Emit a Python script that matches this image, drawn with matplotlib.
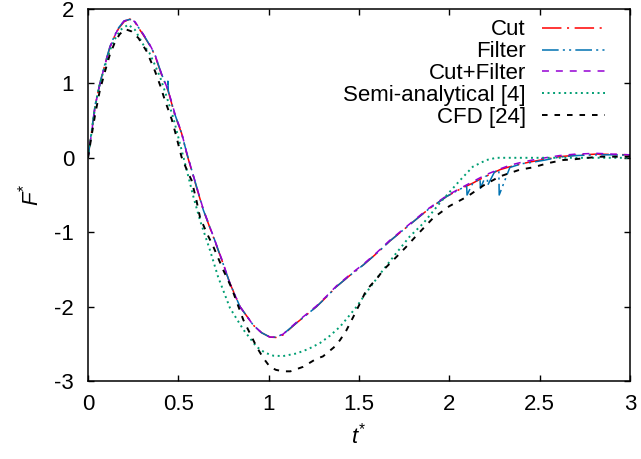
import numpy as np
import matplotlib
matplotlib.use('Agg')
import matplotlib.pyplot as plt

# numerical results (Cut / Filter / Cut+Filter)
t_cut = [0, 0.02, 0.04, 0.066, 0.09, 0.122, 0.15, 0.17, 0.2, 0.232, 0.26, 0.306, 0.34,
         0.37, 0.408, 0.445, 0.48, 0.518, 0.546, 0.6, 0.638, 0.693, 0.74, 0.786, 0.841,
         0.915, 0.96, 1.007, 1.04, 1.08, 1.154, 1.21, 1.265, 1.32, 1.376, 1.45, 1.524,
         1.6, 1.67, 1.74, 1.8, 1.88, 1.985, 2.06, 2.13, 2.2, 2.28, 2.335, 2.4, 2.46,
         2.53, 2.61, 2.7, 2.815, 2.9, 3.0]
F_cut = [0, 0.35, 0.71, 1.0, 1.22, 1.49, 1.65, 1.74, 1.83, 1.865, 1.82, 1.65, 1.52,
         1.38, 1.11, 0.89, 0.58, 0.33, 0.06, -0.39, -0.7, -1.06, -1.37, -1.69, -2.0,
         -2.25, -2.35, -2.41, -2.415, -2.38, -2.22, -2.11, -2.0, -1.87, -1.73, -1.58, -1.44,
         -1.28, -1.12, -0.98, -0.86, -0.7, -0.52, -0.42, -0.34, -0.25, -0.16, -0.12, -0.08, -0.05,
         -0.02, 0.015, 0.035, 0.05, 0.045, 0.04]

t_filter = [0, 0.02, 0.04, 0.066, 0.09, 0.122, 0.15, 0.17, 0.2, 0.232, 0.26, 0.306, 0.34,
            0.37, 0.408, 0.44, 0.442, 0.445, 0.48, 0.518, 0.546, 0.6, 0.638,
            0.693, 0.74, 0.786, 0.841, 0.915, 0.96, 1.007, 1.04, 1.08, 1.154, 1.21, 1.265,
            1.32, 1.376, 1.45, 1.524, 1.6, 1.67, 1.74, 1.8, 1.88, 1.985, 2.06, 2.096, 2.098,
            2.13, 2.17, 2.172, 2.2, 2.21, 2.212, 2.25, 2.274, 2.276, 2.335, 2.4, 2.46,
            2.53, 2.61, 2.7, 2.815, 2.9, 3.0]
F_filter = [0, 0.36, 0.72, 1.0, 1.23, 1.5, 1.66, 1.75, 1.84, 1.86, 1.82, 1.66, 1.52,
            1.39, 1.12, 0.93, 1.03, 0.89, 0.59, 0.33, 0.07, -0.38, -0.7,
            -1.05, -1.37, -1.69, -2.0, -2.25, -2.35, -2.41, -2.41, -2.37, -2.22, -2.11, -2.0,
            -1.87, -1.73, -1.58, -1.44, -1.28, -1.12, -0.98, -0.86, -0.7, -0.52, -0.42, -0.38, -0.5,
            -0.34, -0.28, -0.41, -0.25, -0.24, -0.37, -0.19, -0.16, -0.5, -0.13, -0.08, -0.06,
            -0.03, 0.01, 0.03, 0.04, 0.04, 0.035]

t_both = [0, 0.02, 0.04, 0.066, 0.09, 0.122, 0.15, 0.17, 0.2, 0.232, 0.26, 0.306, 0.34,
          0.37, 0.408, 0.445, 0.48, 0.518, 0.546, 0.6, 0.638, 0.693, 0.74, 0.786, 0.841,
          0.915, 0.96, 1.007, 1.04, 1.08, 1.154, 1.21, 1.265, 1.32, 1.376, 1.45, 1.524,
          1.6, 1.67, 1.74, 1.8, 1.88, 1.985, 2.06, 2.13, 2.2, 2.28, 2.335, 2.4, 2.46,
          2.53, 2.61, 2.7, 2.815, 2.9, 3.0]
F_both = [0, 0.34, 0.7, 0.99, 1.22, 1.49, 1.65, 1.75, 1.84, 1.86, 1.83, 1.66, 1.53,
          1.39, 1.12, 0.9, 0.6, 0.34, 0.07, -0.38, -0.69, -1.05, -1.36, -1.69, -2.0,
          -2.25, -2.35, -2.41, -2.41, -2.37, -2.21, -2.1, -1.99, -1.86, -1.72, -1.57, -1.43,
          -1.27, -1.11, -0.97, -0.85, -0.69, -0.51, -0.41, -0.32, -0.23, -0.15, -0.1, -0.06, -0.03,
          0.0, 0.03, 0.05, 0.06, 0.05, 0.04]

# semi-analytical solution [4]
t_semi = [0, 0.02, 0.04, 0.066, 0.09, 0.122, 0.15, 0.18, 0.223, 0.26, 0.306, 0.34, 0.37,
          0.4, 0.426, 0.472, 0.509, 0.546, 0.583, 0.62, 0.675, 0.72, 0.786, 0.86, 0.933,
          0.98, 1.026, 1.08, 1.154, 1.22, 1.284, 1.34, 1.395, 1.45, 1.487, 1.55, 1.62,
          1.7, 1.78, 1.856, 1.95, 2.06, 2.13, 2.205, 2.26, 2.4, 2.6, 2.8, 3.0]
F_semi = [0, 0.35, 0.7, 1.0, 1.2, 1.45, 1.6, 1.72, 1.79, 1.72, 1.52, 1.41, 1.25,
          1.08, 0.89, 0.54, 0.19, -0.16, -0.52, -0.84, -1.24, -1.6, -2.02, -2.31, -2.54,
          -2.62, -2.66, -2.665, -2.63, -2.57, -2.49, -2.39, -2.27, -2.11, -2.0, -1.78, -1.55,
          -1.3, -1.06, -0.88, -0.6, -0.3, -0.12, -0.03, 0.0, 0.0, 0.0, 0.0, 0.0]

# CFD [24]
t_cfd = [0, 0.02, 0.039, 0.065, 0.094, 0.12, 0.15, 0.175, 0.205, 0.24, 0.279, 0.325,
         0.37, 0.4, 0.426, 0.463, 0.481, 0.518, 0.555, 0.573, 0.6, 0.62, 0.657, 0.693,
         0.749, 0.795, 0.86, 0.933, 0.97, 1.007, 1.04, 1.08, 1.12, 1.19, 1.265, 1.3,
         1.36, 1.395, 1.43, 1.468, 1.515, 1.54, 1.6, 1.634, 1.708, 1.76, 1.82, 1.91,
         2.0, 2.1, 2.19, 2.28, 2.39, 2.46, 2.55, 2.63, 2.69, 2.83, 2.91, 3.0]
F_cfd = [0, 0.3, 0.575, 0.9, 1.16, 1.38, 1.56, 1.66, 1.73, 1.7, 1.61, 1.43,
         1.17, 0.97, 0.77, 0.52, 0.36, 0.01, -0.21, -0.3, -0.57, -0.8, -1.01, -1.19,
         -1.51, -1.75, -2.18, -2.54, -2.69, -2.81, -2.85, -2.87, -2.87, -2.81, -2.7, -2.67,
         -2.55, -2.45, -2.32, -2.14, -1.91, -1.78, -1.62, -1.51, -1.33, -1.2, -1.04, -0.81,
         -0.65, -0.52, -0.37, -0.25, -0.16, -0.13, -0.07, -0.03, -0.02, 0.015, 0.015, 0.015]

x_ticks = [0, 0.5, 1, 1.5, 2, 2.5, 3]
x_ticklabels = ['0', '0.5', '1', '1.5', '2', '2.5', '3']
y_ticks = [-3, -2, -1, 0, 1, 2]
y_ticklabels = ['-3', '-2', '-1', '0', '1', '2']


def main():
    plt.rcParams['font.family'] = ['Liberation Sans', 'DejaVu Sans']
    plt.rcParams['mathtext.fontset'] = 'custom'
    plt.rcParams['mathtext.rm'] = 'Liberation Sans'
    plt.rcParams['mathtext.it'] = 'Liberation Sans:italic'
    plt.rcParams['axes.unicode_minus'] = False
    plt.rcParams['lines.scale_dashes'] = False
    fs = 16

    fig = plt.figure(figsize=(6.41, 4.59), dpi=100)
    ax = fig.add_axes([88 / 641, 78 / 459, 542 / 641, 372 / 459])

    lw = 1.1
    ax.plot(t_cut, F_cut, color='#ff0000', lw=lw, dashes=(14, 4, 1.5, 4), label='Cut')
    ax.plot(t_filter, F_filter, color='#0072b2', lw=lw, dashes=(12, 3, 1.5, 3, 1.5, 3), label='Filter')
    ax.plot(t_both, F_both, color='#9400d3', lw=lw, dashes=(5, 5), label='Cut+Filter')
    ax.plot(t_semi, F_semi, color='#009e73', lw=lw + 0.3, dashes=(1.4, 2.6), label='Semi-analytical [4]')
    ax.plot(t_cfd, F_cfd, color='black', lw=lw + 0.3, dashes=(4, 5), label='CFD [24]')

    ax.set_xlim(0, 3)
    ax.set_ylim(-3, 2)
    ax.set_xticks(x_ticks)
    ax.set_xticklabels(x_ticklabels, fontsize=fs)
    ax.set_yticks(y_ticks)
    ax.set_yticklabels(y_ticklabels, fontsize=fs)
    ax.tick_params(direction='in', top=True, right=True, length=4.5, width=1, pad=9)
    ax.tick_params(axis='y', pad=10)
    for sp in ax.spines.values():
        sp.set_linewidth(1.1)

    ax.set_xlabel('$t^{*}$', fontsize=fs, labelpad=6)
    ax.set_ylabel('$F^{*}$', fontsize=fs, labelpad=8)

    # gnuplot style key: right-justified text, sample on the right
    ax.legend(loc='upper right', bbox_to_anchor=(0.953, 0.972), markerfirst=False,
              frameon=False, fontsize=fs, borderpad=0, borderaxespad=0,
              labelspacing=0.04, handlelength=2.8, handletextpad=0.75)

    plt.savefig('out.png', dpi=100)


if __name__ == '__main__':
    main()
